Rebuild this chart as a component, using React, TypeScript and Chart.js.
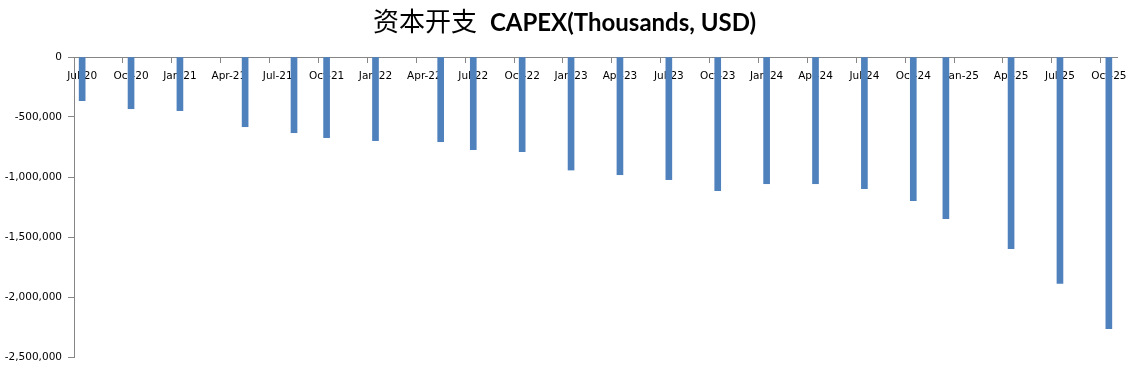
import { useEffect, useRef } from "react";
import { Chart, registerables } from "chart.js";

Chart.register(...registerables);

// ---- Data ----
const titleCn = "资本开支";
const titleEn = "CAPEX(Thousands, USD)";

// reporting periods (year-month) of each bar
const periods = [
  "2020-07", "2020-10", "2021-01", "2021-05", "2021-08", "2021-10",
  "2022-01", "2022-05", "2022-07", "2022-10", "2023-01", "2023-04",
  "2023-07", "2023-10", "2024-01", "2024-04", "2024-07", "2024-10",
  "2024-12", "2025-04", "2025-07", "2025-10",
];

// CAPEX values, thousands USD
const capex = [
  -364000, -431000, -447000, -581000, -631000, -672000,
  -697000, -706000, -772000, -789000, -942000, -981000,
  -1022000, -1114000, -1056000, -1056000, -1097000, -1197000,
  -1347000, -1597000, -1886000, -2264000,
];

const axisStart = "2020-07";
const axisEnd = "2025-10";
const axisMonthStep = 3;
const monthNames = ["Jan", "Feb", "Mar", "Apr", "May", "Jun", "Jul", "Aug", "Sep", "Oct", "Nov", "Dec"];

const yMin = -2500000;
const yMax = 0;
const yStep = 500000;

// ---- helpers ----
const monthIndex = (p: string) => {
  const [y, m] = p.split("-").map(Number);
  return (y - 2020) * 12 + (m - 1);
};
const monthLabel = (idx: number) => {
  const y = 2020 + Math.floor(idx / 12);
  const m = ((idx % 12) + 12) % 12;
  return `${monthNames[m]}-${String(y % 100).padStart(2, "0")}`;
};

const xMin = monthIndex(axisStart);
const xMax = monthIndex(axisEnd) + 1;
const xTickValues: number[] = [];
for (let v = xMin; v <= monthIndex(axisEnd); v += axisMonthStep) xTickValues.push(v);

const axisColor = "#868686";
const tickFont = { family: "'DejaVu Sans', sans-serif", size: 10.5 };

const mixedTitle = {
  id: "mixedTitle",
  afterDraw(chart: any) {
    const ctx = chart.ctx as CanvasRenderingContext2D;
    ctx.save();
    const cnFont = "26px 'Noto Sans CJK SC'";
    const enFont = "bold 24px Lato, 'Open Sans', sans-serif";
    const gap = 13;
    ctx.font = cnFont;
    const w1 = ctx.measureText(titleCn).width;
    ctx.font = enFont;
    const w2 = ctx.measureText(titleEn).width;
    const x0 = chart.width / 2 + 1 - (w1 + gap + w2) / 2;
    const baseline = 31;
    ctx.textBaseline = "alphabetic";
    ctx.textAlign = "left";
    ctx.fillStyle = "#000";
    ctx.font = cnFont;
    ctx.fillText(titleCn, x0, baseline);
    ctx.font = enFont;
    ctx.fillText(titleEn, x0 + w1 + gap, baseline);
    ctx.restore();
  },
};

export default function App() {
  const ref = useRef<HTMLCanvasElement>(null);

  useEffect(() => {
    const chart = new Chart(ref.current!, {
      type: "bar",
      data: {
        datasets: [
          {
            data: periods.map((p, i) => ({ x: monthIndex(p) + 0.5, y: capex[i] })),
            backgroundColor: "#4F81BD",
            borderWidth: 0,
            barThickness: 6,
          },
        ],
      },
      options: {
        animation: false,
        responsive: false,
        layout: { padding: { top: 57, right: 10, bottom: 18, left: 0 } },
        plugins: {
          legend: { display: false },
          title: { display: false },
          tooltip: { enabled: false },
        },
        scales: {
          x: {
            type: "linear",
            position: { y: 0 } as any,
            min: xMin,
            max: xMax,
            offset: false,
            afterBuildTicks: (scale: any) => {
              scale.ticks = xTickValues.map((v) => ({ value: v }));
            },
            ticks: {
              callback: (v: any) => monthLabel(Number(v)),
              labelOffset: 8.15,
              maxRotation: 0,
              minRotation: 0,
              autoSkip: false,
              padding: 8,
              font: tickFont,
              color: "#000",
            },
            grid: { drawOnChartArea: false, tickLength: 5, color: axisColor, offset: false },
            border: { color: axisColor },
          },
          y: {
            type: "linear",
            min: yMin,
            max: yMax,
            afterFit: (scale: any) => {
              scale.width = 74;
            },
            ticks: {
              stepSize: yStep,
              padding: 6,
              callback: (v: any) => Number(v).toLocaleString("en-US"),
              font: tickFont,
              color: "#000",
            },
            grid: { drawOnChartArea: false, tickLength: 6, color: axisColor },
            border: { color: axisColor },
          },
        },
      },
      plugins: [mixedTitle],
    } as any);
    return () => chart.destroy();
  }, []);

  return (
    <canvas
      ref={ref}
      width={1127}
      height={375}
      style={{ position: "fixed", left: 0, top: 0, display: "block", background: "#fff" }}
    />
  );
}
